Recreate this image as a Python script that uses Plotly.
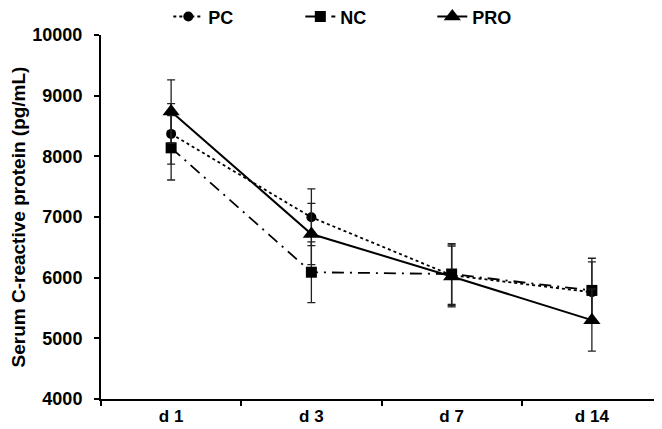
import plotly.graph_objects as go

days = ["d 1", "d 3", "d 7", "d 14"]
pc_vals = [8370, 6995, 6040, 5760]
pc_err = [500, 467, 500, 500]
nc_vals = [8140, 6090, 6060, 5790]
nc_err = [530, 500, 500, 530]
pro_vals = [8740, 6720, 6020, 5300]
pro_err = [520, 506, 500, 510]

FONT = "Arial, Liberation Sans, sans-serif"

fig = go.Figure()

def add(name, vals, err, dash, symbol, msize, lw):
    fig.add_trace(go.Scatter(
        x=days, y=vals, name=name, mode="lines+markers",
        line=dict(color="black", width=lw, dash=dash),
        marker=dict(symbol=symbol, size=msize, color="black"),
        error_y=dict(type="data", array=err, visible=True, color="#222", thickness=1.3, width=4),
    ))

add("PC", pc_vals, pc_err, "dot", "circle", 10, 1.8)
add("NC", nc_vals, nc_err, "12px,6px,2px,6px", "square", 11, 1.8)
add("PRO", pro_vals, pro_err, "solid", "triangle-up", 15, 2)

fig.update_layout(
    width=662, height=429,
    margin=dict(l=93, r=8, t=27, b=38, autoexpand=False),
    paper_bgcolor="white", plot_bgcolor="white",
    font=dict(family=FONT, size=16, color="black"),
    showlegend=True,
    legend=dict(orientation="h", x=0.12, xanchor="left", y=1.05, yanchor="middle",
                font=dict(family=FONT, size=18, color="black", weight="bold"),
                bgcolor="rgba(0,0,0,0)", entrywidth=87, entrywidthmode="pixels"),
)
fig.update_xaxes(
    type="category", range=[-0.5, 3.5],
    showline=True, linecolor="black", linewidth=2,
    ticks="outside", ticklen=5, tickwidth=2, tickcolor="black", tickson="boundaries",
    showgrid=False, zeroline=False, ticklabelstandoff=1,
    tickfont=dict(family=FONT, size=17, color="black", weight="bold"),
)
fig.update_yaxes(
    range=[4000, 10000], dtick=1000, tickformat="d",
    showline=True, linecolor="black", linewidth=2,
    ticks="outside", ticklen=5, tickwidth=2, tickcolor="black",
    showgrid=False, zeroline=False, ticklabelstandoff=8,
    tickfont=dict(family=FONT, size=18, color="black", weight="bold"),
    title=dict(text="Serum C-reactive protein (pg/mL)", standoff=8,
               font=dict(family=FONT, size=19, color="black", weight="bold")),
)

fig.write_html("out.html")
